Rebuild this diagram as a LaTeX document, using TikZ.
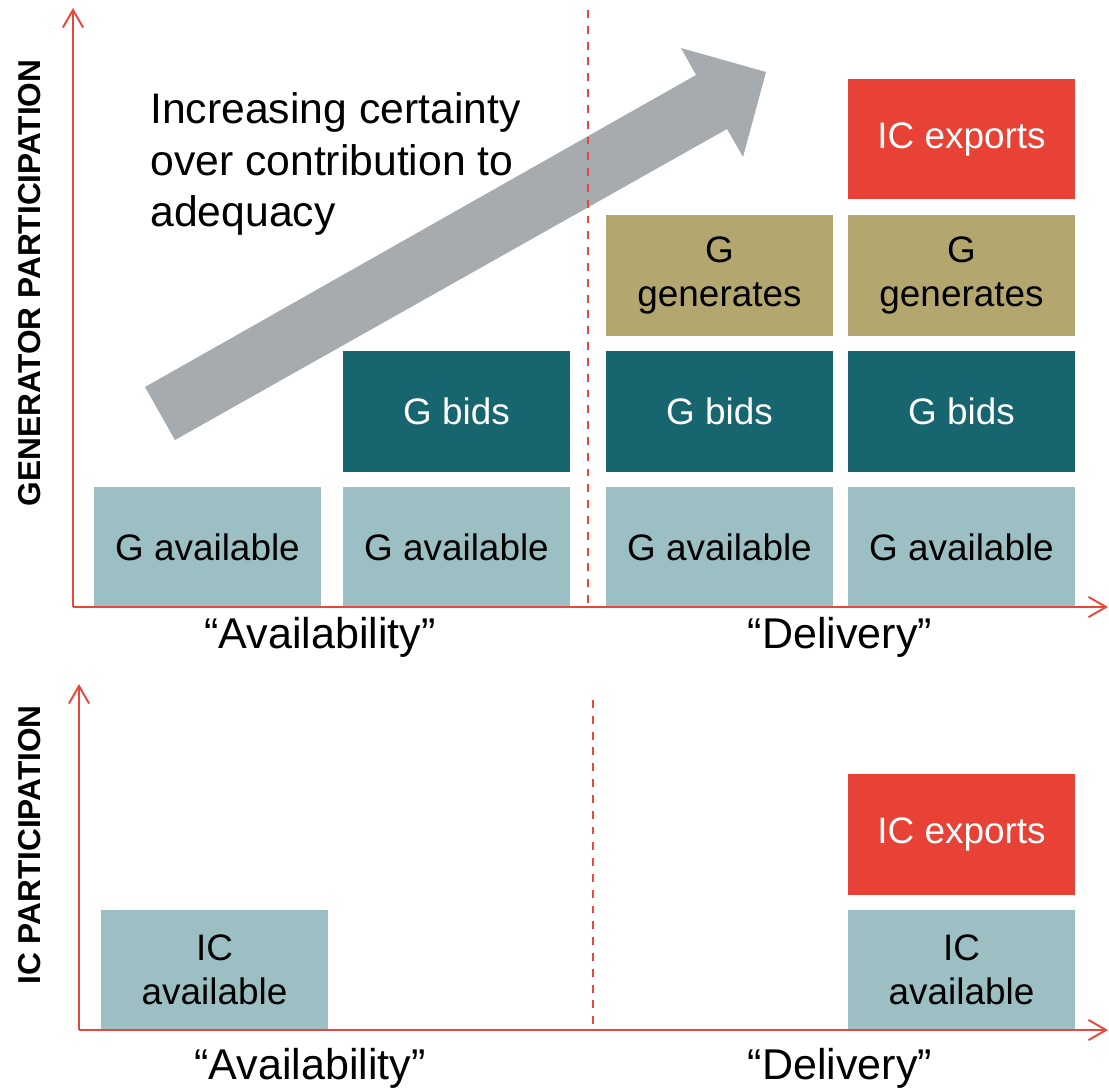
\documentclass[tikz,border=0pt]{standalone}
\usepackage{fontspec}
\setmainfont{Liberation Sans}
\usetikzlibrary{arrows.meta}

\definecolor{axisred}{HTML}{E8473B}
\definecolor{availteal}{HTML}{9BBFC3}
\definecolor{bidteal}{HTML}{17656F}
\definecolor{genkhaki}{HTML}{B3A66F}
\definecolor{exportred}{HTML}{E84135}
\definecolor{arrowgrey}{HTML}{A5ABAE}

\tikzset{
  block/.style={minimum width=4.54cm, minimum height=2.42cm, inner sep=0pt,
    align=center, font=\fontsize{21}{25}\selectfont},
  availbox/.style={block, fill=availteal, text=black},
  bidbox/.style={block, fill=bidteal, text=white},
  genbox/.style={block, fill=genkhaki, text=black},
  exportbox/.style={block, fill=exportred, text=white},
  axis/.style={draw=axisred, line width=1.1pt,
    -{Straight Barb[length=10pt, width=11.5pt, line width=1.1pt]}},
  divider/.style={draw=axisred, line width=0.85pt, dash pattern=on 4.5pt off 4.5pt},
  phase/.style={font=\fontsize{24.5}{29}\selectfont},
  axislabel/.style={rotate=90, font=\fontsize{18}{21}\selectfont\bfseries}
}

\begin{document}
\begin{tikzpicture}[x=0.02cm, y=-0.02cm]

    \useasboundingbox (0, 0) rectangle (1109, 1090);

    % Grafico superior: generadores
    \coordinate (gorigin) at (73, 607);
    \coordinate (gtop) at (73, 8);
    \coordinate (gright) at (1108, 607);
    \coordinate (gdashtop) at (588, 10);
    \coordinate (gdashbot) at (588, 607);

    % Flecha de certeza
    \fill[arrowgrey] (145, 387) -- (175, 440) -- (727, 129) -- (743, 157)
      -- (766, 72) -- (681, 48) -- (696, 75) -- cycle;
    \node[anchor=north west, align=left, inner sep=0pt,
      font=\fontsize{24.3}{29.5}\selectfont] (certainty) at (150, 92)
      {Increasing certainty\\over contribution to\\adequacy};

    % Bloques
    \node[availbox] (gavail1) at (207.5, 547.5) {G available};
    \node[availbox] (gavail2) at (456.5, 547.5) {G available};
    \node[availbox] (gavail3) at (719.5, 547.5) {G available};
    \node[availbox] (gavail4) at (961.5, 547.5) {G available};
    \node[bidbox] (gbids2) at (456.5, 411) {G bids};
    \node[bidbox] (gbids3) at (719.5, 411) {G bids};
    \node[bidbox] (gbids4) at (961.5, 411) {G bids};
    \node[genbox] (ggen3) at (719.5, 275) {G\\generates};
    \node[genbox] (ggen4) at (961.5, 275) {G\\generates};
    \node[exportbox] (gexport4) at (961.5, 139) {IC exports};

    % Ejes
    \draw[divider] (gdashtop) -- (gdashbot);
    \draw[axis] (gorigin) -- (gtop);
    \draw[axis] (gorigin) -- (gright);

    % Etiquetas
    \node[phase] (gavailability) at (320, 637) {“Availability”};
    \node[phase] (gdelivery) at (840, 637) {“Delivery”};
    \node[axislabel] (gylabel) at (30, 283) {GENERATOR PARTICIPATION};

    % Grafico inferior: interconectores
    \coordinate (iorigin) at (79, 1030);
    \coordinate (itop) at (79, 684);
    \coordinate (iright) at (1108, 1030);
    \coordinate (idashtop) at (593, 700);
    \coordinate (idashbot) at (593, 1030);

    \node[availbox] (icavail1) at (214.5, 970) {IC\\available};
    \node[availbox] (icavail4) at (961.5, 970) {IC\\available};
    \node[exportbox] (icexport4) at (961.5, 834.5) {IC exports};

    \draw[divider] (idashtop) -- (idashbot);
    \draw[axis] (iorigin) -- (itop);
    \draw[axis] (iorigin) -- (iright);

    \node[phase] (iavailability) at (310, 1068) {“Availability”};
    \node[phase] (idelivery) at (840, 1068) {“Delivery”};
    \node[axislabel] (iylabel) at (30, 845) {IC PARTICIPATION};

\end{tikzpicture}
\end{document}
